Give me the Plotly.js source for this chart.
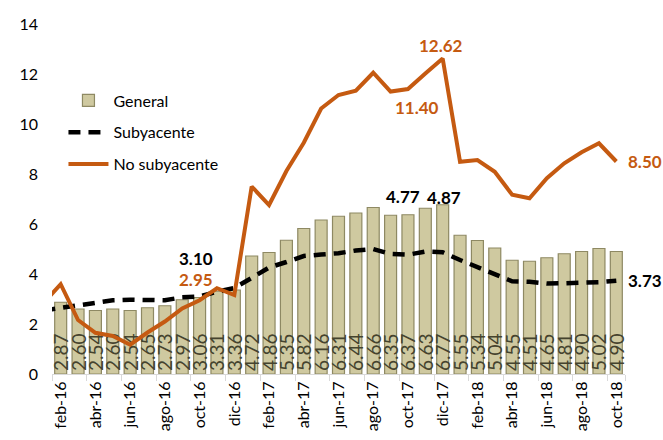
<!DOCTYPE html>
<html>
<head>
<meta charset="utf-8">
<script src="https://cdn.plot.ly/plotly-3.0.1.min.js"></script>
<style>html,body{margin:0;padding:0;background:#fff}#chart{width:663px;height:440px}</style>
</head>
<body>
<div id="chart"></div>
<script>
// Months (ene-16 is only partly visible through the clipped line segments)
const months = ["ene-16","feb-16","mar-16","abr-16","may-16","jun-16","jul-16","ago-16","sep-16","oct-16","nov-16","dic-16",
  "ene-17","feb-17","mar-17","abr-17","may-17","jun-17","jul-17","ago-17","sep-17","oct-17","nov-17","dic-17",
  "ene-18","feb-18","mar-18","abr-18","may-18","jun-18","jul-18","ago-18","sep-18","oct-18"];
// General (bars) from feb-16
const barMonths = months.slice(1);
const general = [2.87,2.60,2.54,2.60,2.54,2.65,2.73,2.97,3.06,3.31,3.36,
  4.72,4.86,5.35,5.82,6.16,6.31,6.44,6.66,6.35,6.37,6.63,6.77,
  5.55,5.34,5.04,4.55,4.51,4.65,4.81,4.90,5.02,4.90];
const subyacente = [2.54,2.64,2.74,2.85,2.95,2.97,2.97,2.95,3.07,3.10,3.29,3.44,
  3.84,4.26,4.48,4.72,4.78,4.83,4.94,5.00,4.80,4.77,4.90,4.87,
  4.56,4.27,4.02,3.71,3.69,3.62,3.63,3.63,3.67,3.73];
const noSubyacente = [2.83,3.59,2.16,1.65,1.52,1.17,1.66,2.10,2.62,2.95,3.43,3.16,
  7.50,6.76,8.12,9.25,10.62,11.16,11.33,12.05,11.30,11.40,12.02,12.62,
  8.49,8.56,8.09,7.17,7.03,7.83,8.43,8.87,9.23,8.50];
const tickMonths = ["feb-16","abr-16","jun-16","ago-16","oct-16","dic-16","feb-17","abr-17","jun-17","ago-17","oct-17","dic-17",
  "feb-18","abr-18","jun-18","ago-18","oct-18"];
const yTicks = [0,2,4,6,8,10,12,14];

// Highlighted labels
const subLabels = ["oct-16","oct-17","dic-17","oct-18"];
const noSubLabels = ["oct-16","oct-17","dic-17","oct-18"];

const FONT = "Lato, 'Liberation Sans', sans-serif";
const ORANGE = "#c55a11";

const traces = [
  {
    type: "bar", name: "General", x: barMonths, y: general,
    marker: {color: "#cfc9a0", line: {color: "#8e8963", width: 1.2}},
    text: general.map(v => v.toFixed(2)),
    textposition: "inside", insidetextanchor: "start", textangle: -90,
    constraintext: "none",
    textfont: {family: FONT, size: 19, color: "#45432e"},
    legendgroup: "a"
  },
  {
    type: "scatter", mode: "lines", name: "Subyacente", x: months, y: subyacente,
    line: {color: "#000", width: 4.5, dash: "12px,8px"},
    legendgroup: "b"
  },
  {
    type: "scatter", mode: "lines", name: "No subyacente", x: months, y: noSubyacente,
    line: {color: ORANGE, width: 4},
    legendgroup: "c"
  }
];

const annotations = [];
const subShift = {"oct-16": [-4, 38], "oct-17": [-5, 58], "dic-17": [1, 55], "oct-18": [29, 0]};
subLabels.forEach(m => {
  const i = months.indexOf(m);
  annotations.push({x: m, y: subyacente[i], xref: "x", yref: "y", showarrow: false,
    text: "<b>" + subyacente[i].toFixed(2) + "</b>", xshift: subShift[m][0], yshift: subShift[m][1],
    font: {family: FONT, size: 17, color: "#000"}});
});
const noShift = {"oct-16": [-4, 21], "oct-17": [9, -18], "dic-17": [-2, 13], "oct-18": [29, 0]};
noSubLabels.forEach(m => {
  const i = months.indexOf(m);
  annotations.push({x: m, y: noSubyacente[i], xref: "x", yref: "y", showarrow: false,
    text: "<b>" + noSubyacente[i].toFixed(2) + "</b>", xshift: noShift[m][0], yshift: noShift[m][1],
    font: {family: FONT, size: 17, color: ORANGE}});
});

const layout = {
  width: 663, height: 440,
  margin: {l: 52, r: 38, t: 24, b: 66},
  paper_bgcolor: "#fff", plot_bgcolor: "#fff",
  font: {family: FONT, size: 15, color: "#000"},
  showlegend: true,
  legend: {x: 0.02, y: 0.83, xanchor: "left", yanchor: "top",
    font: {family: FONT, size: 16, color: "#000"},
    bgcolor: "rgba(0,0,0,0)", traceorder: "grouped", tracegroupgap: 8, itemwidth: 40},
  bargap: 0.31,
  xaxis: {
    type: "category", categoryorder: "array", categoryarray: months,
    range: [0.5, 33.5],
    tickmode: "array", tickvals: tickMonths, ticktext: tickMonths,
    tickangle: -90, tickson: "boundaries",
    ticks: "outside", ticklen: 6, tickcolor: "#d9d9d9",
    showline: true, linecolor: "#d9d9d9", linewidth: 1,
    showgrid: false, zeroline: false,
    tickfont: {family: FONT, size: 16, color: "#000"}
  },
  yaxis: {
    range: [0, 14], tickmode: "array", tickvals: yTicks,
    showgrid: false, zeroline: false, showline: false, ticks: "",
    ticklabelstandoff: 13,
    tickfont: {family: FONT, size: 16, color: "#000"}
  },
  annotations: annotations
};

Plotly.newPlot("chart", traces, layout, {displayModeBar: false, staticPlot: true});
</script>
</body>
</html>
